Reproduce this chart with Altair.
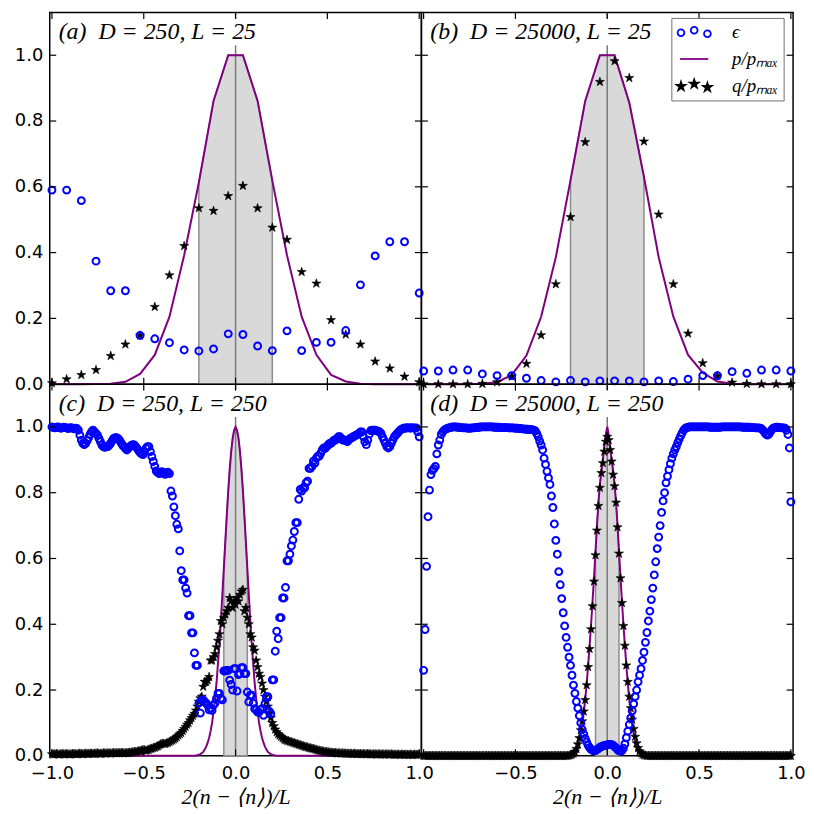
import math
import altair as alt
import pandas as pd

# ------------------------------------------------------------------ data
# top row: L = 25  -> 26 sites, x = 2(n-<n>)/L
X25 = [-1.0, -0.92, -0.84, -0.76, -0.68, -0.6, -0.52, -0.44, -0.36, -0.28, -0.2, -0.12, -0.04,
       0.04, 0.12, 0.2, 0.28, 0.36, 0.44, 0.52, 0.6, 0.68, 0.76, 0.84, 0.92, 1.0]

EPS_A = [0.590, 0.590, 0.558, 0.374, 0.284, 0.284, 0.148, 0.138, 0.126, 0.104, 0.101, 0.107, 0.153,
         0.151, 0.116, 0.102, 0.162, 0.102, 0.127, 0.127, 0.163, 0.302, 0.390, 0.433, 0.433, 0.277]
P_A = [0.0, 0.0, 0.0, 0.0005, 0.001, 0.007, 0.031, 0.089, 0.205, 0.392, 0.613, 0.861, 1.0,
       1.0, 0.861, 0.619, 0.392, 0.205, 0.089, 0.028, 0.008, 0.001, 0.0, 0.0, 0.0, 0.0]
Q_A = [0.003, 0.015, 0.028, 0.043, 0.086, 0.121, 0.148, 0.235, 0.331, 0.420, 0.535, 0.527, 0.572,
       0.603, 0.535, 0.476, 0.439, 0.341, 0.306, 0.195, 0.151, 0.121, 0.069, 0.048, 0.023, 0.006]

EPS_B = [0.040, 0.040, 0.043, 0.043, 0.031, 0.026, 0.026, 0.018, 0.011, 0.007, 0.011, 0.007, 0.010,
         0.010, 0.010, 0.007, 0.010, 0.008, 0.015, 0.026, 0.026, 0.038, 0.033, 0.043, 0.043, 0.040]
P_B = [0.0, 0.0, 0.0, 0.0, 0.001, 0.006, 0.028, 0.087, 0.205, 0.386, 0.620, 0.861, 1.0,
       1.0, 0.856, 0.630, 0.386, 0.205, 0.089, 0.035, 0.008, 0.001, 0.0, 0.0, 0.0, 0.0]
Q_B = [0.0, 0.0, 0.0, 0.0, 0.001, 0.006, 0.023, 0.062, 0.149, 0.304, 0.508, 0.736, 0.919,
       0.982, 0.931, 0.738, 0.516, 0.304, 0.154, 0.064, 0.025, 0.005, 0.001, 0.0, 0.0, 0.0]

# bottom row: L = 250 -> 251 sites
X250 = [round(-1.0 + 0.008 * k, 3) for k in range(251)]

EPS_C = [
    1.0, 0.998, 0.997, 0.999, 1.0, 0.998, 0.996, 0.997, 0.999, 0.998,
    0.997, 0.995, 0.997, 0.998, 0.996, 0.994, 0.996, 0.995, 0.99, 0.975,
    0.96, 0.95, 0.946, 0.95, 0.958, 0.968, 0.978, 0.986, 0.99, 0.985,
    0.98, 0.975, 0.965, 0.955, 0.945, 0.94, 0.938, 0.94, 0.94, 0.945,
    0.95, 0.958, 0.965, 0.967, 0.967, 0.965, 0.96, 0.952, 0.945, 0.94,
    0.935, 0.93, 0.935, 0.94, 0.944, 0.946, 0.945, 0.94, 0.935, 0.928,
    0.922, 0.918, 0.916, 0.925, 0.935, 0.94, 0.94, 0.925, 0.91, 0.895,
    0.88, 0.866, 0.862, 0.858, 0.86, 0.864, 0.86, 0.856, 0.86, 0.862,
    0.858, 0.805, 0.79, 0.757, 0.73, 0.704, 0.69, 0.623, 0.563, 0.535,
    0.535, 0.51, 0.495, 0.426, 0.426, 0.374, 0.374, 0.313, 0.275, 0.275,
    0.16, 0.13, 0.17, 0.17, 0.164, 0.16, 0.154, 0.14, 0.145, 0.138,
    0.154, 0.16, 0.175, 0.19, 0.19, 0.175, 0.17, 0.258, 0.258, 0.26,
    0.26, 0.23, 0.217, 0.2, 0.265, 0.265, 0.197, 0.247, 0.25, 0.268,
    0.268, 0.25, 0.25, 0.194, 0.164, 0.184, 0.184, 0.16, 0.143, 0.14,
    0.133, 0.133, 0.14, 0.143, 0.123, 0.158, 0.18, 0.18, 0.135, 0.128,
    0.231, 0.231, 0.318, 0.379, 0.356, 0.42, 0.42, 0.48, 0.48, 0.512,
    0.593, 0.593, 0.613, 0.638, 0.656, 0.682, 0.709, 0.709, 0.78, 0.81,
    0.805, 0.815, 0.815, 0.83, 0.835, 0.874, 0.874, 0.88, 0.896, 0.89,
    0.905, 0.911, 0.911, 0.92, 0.93, 0.936, 0.935, 0.94, 0.945, 0.95,
    0.95, 0.955, 0.96, 0.96, 0.965, 0.97, 0.97, 0.965, 0.96, 0.96,
    0.96, 0.955, 0.96, 0.965, 0.967, 0.97, 0.972, 0.975, 0.977, 0.98,
    0.985, 0.985, 0.97, 0.955, 0.946, 0.96, 0.978, 0.989, 0.99, 0.99,
    0.99, 0.988, 0.987, 0.985, 0.98, 0.97, 0.96, 0.95, 0.94, 0.936,
    0.94, 0.95, 0.96, 0.97, 0.975, 0.98, 0.985, 0.99, 0.993, 0.995,
    0.997, 0.996, 0.998, 0.997, 0.996, 0.998, 0.997, 0.996, 0.997, 0.985, 0.97,
]

P_C = [
    0, 0, 0, 0, 0, 0, 0, 0, 0, 0,
    0, 0, 0, 0, 0, 0, 0, 0, 0, 0,
    0, 0, 0, 0, 0, 0, 0, 0, 0, 0,
    0, 0, 0, 0, 0, 0, 0, 0, 0, 0,
    0, 0, 0, 0, 0, 0, 0, 0, 0, 0,
    0, 0, 0, 0, 0, 0, 0, 0, 0, 0,
    0, 0, 0, 0, 0, 0, 0, 0, 0, 0,
    0, 0, 0, 0, 0, 0, 0, 0, 0, 0,
    0, 0, 0, 0, 0, 0, 0, 0, 0, 0,
    0, 0, 0, 0, 0, 0, 0, 0, 0.001, 0.002,
    0.003, 0.005, 0.008, 0.012, 0.019, 0.028, 0.04, 0.055, 0.075, 0.10,
    0.135, 0.175, 0.22, 0.28, 0.34, 0.41, 0.49, 0.57, 0.65, 0.73,
    0.805, 0.87, 0.925, 0.965, 0.99, 1.0, 0.99, 0.965, 0.925, 0.87,
    0.805, 0.73, 0.65, 0.57, 0.49, 0.41, 0.34, 0.28, 0.22, 0.175,
    0.135, 0.10, 0.075, 0.055, 0.04, 0.028, 0.019, 0.012, 0.008, 0.005,
    0.003, 0.002, 0.001, 0, 0, 0, 0, 0, 0, 0,
    0, 0, 0, 0, 0, 0, 0, 0, 0, 0,
    0, 0, 0, 0, 0, 0, 0, 0, 0, 0,
    0, 0, 0, 0, 0, 0, 0, 0, 0, 0,
    0, 0, 0, 0, 0, 0, 0, 0, 0, 0,
    0, 0, 0, 0, 0, 0, 0, 0, 0, 0,
    0, 0, 0, 0, 0, 0, 0, 0, 0, 0,
    0, 0, 0, 0, 0, 0, 0, 0, 0, 0,
    0, 0, 0, 0, 0, 0, 0, 0, 0, 0,
    0, 0, 0, 0, 0, 0, 0, 0, 0, 0, 0,
]

Q_C = [
    0.005, 0.004, 0.005, 0.006, 0.005, 0.004, 0.005, 0.006, 0.005, 0.005,
    0.006, 0.005, 0.004, 0.005, 0.006, 0.006, 0.005, 0.005, 0.006, 0.007,
    0.006, 0.005, 0.006, 0.007, 0.006, 0.006, 0.007, 0.007, 0.006, 0.007,
    0.007, 0.008, 0.007, 0.006, 0.007, 0.008, 0.008, 0.007, 0.008, 0.008,
    0.007, 0.008, 0.009, 0.008, 0.008, 0.009, 0.008, 0.009, 0.009, 0.008,
    0.008, 0.009, 0.009, 0.010, 0.010, 0.011, 0.012, 0.012, 0.013, 0.014,
    0.015, 0.016, 0.018, 0.017, 0.016, 0.017, 0.019, 0.021, 0.022, 0.024,
    0.025, 0.027, 0.029, 0.032, 0.035, 0.037, 0.037, 0.036, 0.038, 0.040,
    0.042, 0.045, 0.047, 0.050, 0.053, 0.057, 0.062, 0.066, 0.070, 0.076,
    0.082, 0.088, 0.095, 0.100, 0.108, 0.115, 0.122, 0.128, 0.138, 0.150,
    0.165, 0.175, 0.180, 0.210, 0.225, 0.225, 0.230, 0.240, 0.290, 0.290,
    0.300, 0.310, 0.330, 0.350, 0.370, 0.410, 0.400, 0.420, 0.430, 0.440,
    0.450, 0.480, 0.470, 0.450, 0.470, 0.460, 0.480, 0.470, 0.490, 0.500,
    0.505, 0.440, 0.450, 0.420, 0.400, 0.370, 0.360, 0.330, 0.320, 0.290,
    0.270, 0.250, 0.240, 0.220, 0.200, 0.180, 0.165, 0.150, 0.130, 0.115,
    0.100, 0.090, 0.080, 0.072, 0.066, 0.062, 0.058, 0.054, 0.050, 0.048,
    0.046, 0.045, 0.043, 0.042, 0.040, 0.039, 0.037, 0.036, 0.034, 0.033,
    0.031, 0.030, 0.028, 0.027, 0.026, 0.024, 0.023, 0.022, 0.021, 0.020,
    0.018, 0.017, 0.016, 0.015, 0.014, 0.013, 0.012, 0.012, 0.011, 0.010,
    0.010, 0.009, 0.009, 0.009, 0.008, 0.008, 0.008, 0.007, 0.008, 0.007,
    0.007, 0.007, 0.006, 0.007, 0.006, 0.006, 0.007, 0.006, 0.005, 0.006,
    0.006, 0.005, 0.006, 0.005, 0.005, 0.006, 0.005, 0.005, 0.004, 0.005,
    0.005, 0.004, 0.005, 0.005, 0.004, 0.005, 0.004, 0.004, 0.005, 0.004,
    0.004, 0.005, 0.004, 0.004, 0.003, 0.004, 0.004, 0.003, 0.004, 0.004,
    0.003, 0.004, 0.003, 0.003, 0.004, 0.003, 0.003, 0.004, 0.003, 0.003, 0.004,
]

EPS_D = [
    0.26, 0.384, 0.576, 0.727, 0.808, 0.855, 0.868, 0.873, 0.880, 0.918,
    0.945, 0.960, 0.977, 0.985, 0.990, 0.993, 0.995, 0.997, 0.998, 0.999,
    1.0, 1.0, 1.0, 0.999, 0.999, 0.998, 0.998, 0.997, 0.997, 0.997,
    0.996, 0.996, 0.996, 0.997, 0.997, 0.998, 0.998, 0.999, 0.999, 1.0,
    1.0, 1.0, 1.0, 1.0, 1.0, 1.0, 1.0, 1.0, 0.999, 0.999,
    0.999, 0.999, 0.998, 0.998, 0.998, 0.998, 0.998, 0.998, 0.997, 0.997,
    0.997, 0.997, 0.996, 0.996, 0.996, 0.995, 0.995, 0.994, 0.994, 0.993,
    0.993, 0.993, 0.992, 0.992, 0.991, 0.99, 0.988, 0.98, 0.97, 0.957,
    0.945, 0.93, 0.905, 0.886, 0.865, 0.845, 0.825, 0.79, 0.755, 0.705,
    0.655, 0.613, 0.56, 0.52, 0.478, 0.435, 0.395, 0.36, 0.33, 0.30,
    0.275, 0.245, 0.215, 0.19, 0.165, 0.145, 0.122, 0.10, 0.08, 0.066,
    0.053, 0.042, 0.032, 0.025, 0.02, 0.017, 0.015, 0.016, 0.019, 0.022,
    0.026, 0.028, 0.030, 0.031, 0.032, 0.033, 0.035, 0.035, 0.034, 0.032,
    0.028, 0.024, 0.019, 0.015, 0.014, 0.016, 0.023, 0.036, 0.055, 0.075,
    0.095, 0.115, 0.137, 0.158, 0.18, 0.20, 0.225, 0.245, 0.265, 0.29,
    0.315, 0.345, 0.375, 0.41, 0.44, 0.475, 0.51, 0.55, 0.59, 0.63,
    0.665, 0.70, 0.74, 0.775, 0.80, 0.83, 0.85, 0.87, 0.888, 0.905,
    0.918, 0.93, 0.94, 0.952, 0.963, 0.973, 0.982, 0.99, 0.995, 0.998,
    0.999, 1.0, 1.0, 1.0, 1.0, 1.0, 1.0, 1.0, 1.0, 1.0,
    1.0, 1.0, 1.0, 1.0, 1.0, 0.999, 0.999, 0.999, 0.999, 0.999,
    0.999, 0.999, 0.999, 1.0, 1.0, 1.0, 1.0, 1.0, 1.0, 1.0,
    1.0, 1.0, 1.0, 1.0, 1.0, 1.0, 1.0, 0.999, 0.999, 0.999,
    0.999, 0.999, 0.999, 0.998, 0.998, 0.998, 0.997, 0.997, 0.997, 0.996,
    0.995, 0.99, 0.984, 0.978, 0.975, 0.978, 0.985, 0.992, 0.996, 0.998,
    0.999, 0.999, 0.998, 0.998, 0.997, 0.997, 0.996, 0.99, 0.977, 0.936, 0.772,
]

P_D = [
    0, 0, 0, 0, 0, 0, 0, 0, 0, 0,
    0, 0, 0, 0, 0, 0, 0, 0, 0, 0,
    0, 0, 0, 0, 0, 0, 0, 0, 0, 0,
    0, 0, 0, 0, 0, 0, 0, 0, 0, 0,
    0, 0, 0, 0, 0, 0, 0, 0, 0, 0,
    0, 0, 0, 0, 0, 0, 0, 0, 0, 0,
    0, 0, 0, 0, 0, 0, 0, 0, 0, 0,
    0, 0, 0, 0, 0, 0, 0, 0, 0, 0,
    0, 0, 0, 0, 0, 0, 0, 0, 0, 0,
    0, 0, 0, 0, 0, 0, 0, 0, 0, 0,
    0.001, 0.002, 0.004, 0.008, 0.015, 0.026, 0.042, 0.065, 0.095, 0.13,
    0.17, 0.22, 0.275, 0.335, 0.40, 0.47, 0.545, 0.62, 0.70, 0.77,
    0.825, 0.865, 0.90, 0.94, 0.975, 1.0, 0.975, 0.94, 0.90, 0.865,
    0.825, 0.77, 0.70, 0.62, 0.545, 0.47, 0.40, 0.335, 0.275, 0.22,
    0.17, 0.13, 0.095, 0.065, 0.042, 0.026, 0.015, 0.008, 0.004, 0.002,
    0.001, 0, 0, 0, 0, 0, 0, 0, 0, 0,
    0, 0, 0, 0, 0, 0, 0, 0, 0, 0,
    0, 0, 0, 0, 0, 0, 0, 0, 0, 0,
    0, 0, 0, 0, 0, 0, 0, 0, 0, 0,
    0, 0, 0, 0, 0, 0, 0, 0, 0, 0,
    0, 0, 0, 0, 0, 0, 0, 0, 0, 0,
    0, 0, 0, 0, 0, 0, 0, 0, 0, 0,
    0, 0, 0, 0, 0, 0, 0, 0, 0, 0,
    0, 0, 0, 0, 0, 0, 0, 0, 0, 0,
    0, 0, 0, 0, 0, 0, 0, 0, 0, 0, 0,
]

Q_D = [
    0, 0, 0, 0, 0, 0, 0, 0, 0, 0,
    0, 0, 0, 0, 0, 0, 0, 0, 0, 0,
    0, 0, 0, 0, 0, 0, 0, 0, 0, 0,
    0, 0, 0, 0, 0, 0, 0, 0, 0, 0,
    0, 0, 0, 0, 0, 0, 0, 0, 0, 0,
    0, 0, 0, 0, 0, 0, 0, 0, 0, 0,
    0, 0, 0, 0, 0, 0, 0, 0, 0, 0,
    0, 0, 0, 0, 0, 0, 0, 0, 0, 0,
    0, 0, 0, 0, 0, 0, 0, 0, 0, 0,
    0, 0, 0, 0, 0, 0, 0, 0, 0, 0.001,
    0.002, 0.004, 0.007, 0.012, 0.021, 0.035, 0.054, 0.078, 0.105, 0.135,
    0.17, 0.215, 0.27, 0.325, 0.385, 0.455, 0.53, 0.61, 0.685, 0.76,
    0.815, 0.86, 0.89, 0.925, 0.955, 0.97, 0.96, 0.93, 0.895, 0.855,
    0.82, 0.77, 0.695, 0.615, 0.54, 0.465, 0.395, 0.335, 0.275, 0.225,
    0.18, 0.145, 0.11, 0.082, 0.058, 0.038, 0.024, 0.014, 0.008, 0.004,
    0.002, 0.001, 0, 0, 0, 0, 0, 0, 0, 0,
    0, 0, 0, 0, 0, 0, 0, 0, 0, 0,
    0, 0, 0, 0, 0, 0, 0, 0, 0, 0,
    0, 0, 0, 0, 0, 0, 0, 0, 0, 0,
    0, 0, 0, 0, 0, 0, 0, 0, 0, 0,
    0, 0, 0, 0, 0, 0, 0, 0, 0, 0,
    0, 0, 0, 0, 0, 0, 0, 0, 0, 0,
    0, 0, 0, 0, 0, 0, 0, 0, 0, 0,
    0, 0, 0, 0, 0, 0, 0, 0, 0, 0,
    0, 0, 0, 0, 0, 0, 0, 0, 0, 0, 0,
]

for arr in (EPS_C, P_C, Q_C, EPS_D, P_D, Q_D):
    assert len(arr) == 251, len(arr)

TITLES = ["(a)\u2002D = 250, L = 25", "(b)\u2002D = 25000, L = 25",
          "(c)\u2002D = 250, L = 250", "(d)\u2002D = 25000, L = 250"]
SERIES = ["ϵ", "p/pₘₐₓ", "q/pₘₐₓ"]
XTICKS = [-1.0, -0.5, 0.0, 0.5, 1.0]
YTICKS = [0.0, 0.2, 0.4, 0.6, 0.8, 1.0]
XLABELS_C = [-1.0, -0.5, 0.0, 0.5, 1.0]
XLABELS_D = [-0.5, 0.0, 0.5, 1.0]
XTITLE = "2(n − ⟨n⟩)/L"

# ------------------------------------------------------------------ style
XDOM = [-1.012, 1.012]
YDOM = [0.0, 1.13]
W = 374
H = 374
TICK = 6.5
SERIF = "Liberation Serif"
SANS = "DejaVu Sans"


def star_path(cx=0.0, cy=0.0, r=1.0):
    pts = []
    for i in range(10):
        ang = math.radians(-90 + 36 * i)
        rr = r if i % 2 == 0 else r * 0.382
        pts.append((cx + rr * math.cos(ang), cy + rr * math.sin(ang)))
    return "M" + "L".join(f"{x:.3f},{y:.3f}" for x, y in pts) + "Z"


def circle_path(cx, cy, r):
    return (f"M{cx - r:.3f},{cy:.3f}A{r:.3f},{r:.3f} 0 1,0 {cx + r:.3f},{cy:.3f}"
            f"A{r:.3f},{r:.3f} 0 1,0 {cx - r:.3f},{cy:.3f}Z")


STAR = star_path()
U = 9.0  # legend symbol: px per path unit (symbolSize = (2U)^2)
LEG_DX = [-13.3, 0.0, 13.3]
LEG_DY = [0.5, -1.9, 1.5]
LEG_CIRCLES = "".join(circle_path(dx / U, dy / U, 3.4 / U) for dx, dy in zip(LEG_DX, LEG_DY))
LEG_LINE = f"M{-14.2 / U:.3f},0L{14.2 / U:.3f},0"
LEG_STARS = "".join(star_path(dx / U, dy / U, 4.4 / U) for dx, dy in zip(LEG_DX, LEG_DY))


def x_axis(values):
    return alt.Axis(values=values, format=".1f", labelFont=SANS, labelFontSize=18,
                    labelColor="black", labelPadding=9, labelFlush=False, labelOverlap=False,
                    ticks=False, tickSize=0, domain=False, grid=False,
                    title=XTITLE, titleFont=SERIF, titleFontSize=22, titleFontStyle="italic",
                    titleFontWeight="normal", titleColor="black", titlePadding=4)


def y_axis():
    return alt.Axis(values=YTICKS, format=".1f", labelFont=SANS, labelFontSize=18,
                    labelColor="black", labelPadding=7, labelFlush=False, labelOverlap=False,
                    ticks=False, tickSize=0, domain=False, grid=False, title=None,
                    minExtent=41, maxExtent=41)


LEGEND = alt.Legend(title=None, orient="none", legendX=251.5, legendY=5.5, direction="vertical",
                    fillColor="white", strokeColor="#707070", padding=4.3, rowPadding=7,
                    symbolOffset=8.7, labelOffset=28, labelFont=SERIF, labelFontSize=19,
                    labelFontStyle="italic", labelColor="black", labelLimit=300,
                    symbolSize=324, symbolStrokeWidth=1.8)


def panel(xs, eps, p, q, band, title, box_w, xlabels, show_y, legend):
    XS = alt.Scale(domain=XDOM, nice=False, zero=False)
    YS = alt.Scale(domain=YDOM, nice=False, zero=False)
    xax = x_axis(xlabels) if xlabels is not None else None
    yax = y_axis() if show_y else None

    df = pd.DataFrame({"x": xs, "eps": eps, "p": p, "q": q})
    band_df = df[(df["x"] >= -band - 1e-9) & (df["x"] <= band + 1e-9)]
    X = alt.X("x:Q", scale=XS, axis=xax)

    area = alt.Chart(band_df).mark_area(fill="#d9d9d9", stroke="#8c8c8c", strokeWidth=1.5).encode(
        x=X, y=alt.Y("p:Q", scale=YS, axis=yax), y2=alt.datum(0))
    vline = alt.Chart(pd.DataFrame({"x0": [0.0]})).mark_rule(color="#7a7a7a", strokeWidth=1.5).encode(
        x=alt.X("x0:Q", scale=XS, axis=xax), y=alt.value(0), y2=alt.value(H))
    line = alt.Chart(df).mark_line(color="purple", strokeWidth=2).encode(
        x=X, y=alt.Y("p:Q", scale=YS, axis=yax))
    stars = alt.Chart(df).mark_point(shape=STAR, filled=True, fill="black", stroke="black",
                                     strokeWidth=0.6, size=92, opacity=1).encode(
        x=X, y=alt.Y("q:Q", scale=YS, axis=yax))
    circles = alt.Chart(df).mark_point(shape="circle", filled=False, color="blue", size=48,
                                       strokeWidth=2, opacity=1).encode(
        x=X, y=alt.Y("eps:Q", scale=YS, axis=yax))

    tdf = pd.DataFrame({"t": [title]})
    box = alt.Chart(tdf).mark_rect(color="white").encode(
        x=alt.value(5), x2=alt.value(box_w), y=alt.value(6), y2=alt.value(33))
    txt = alt.Chart(tdf).mark_text(align="left", baseline="alphabetic", font=SERIF, fontSize=24,
                                   fontStyle="italic", color="black").encode(
        x=alt.value(9), y=alt.value(27), text="t:N")

    xt = pd.DataFrame({"v": XTICKS})
    yt = pd.DataFrame({"v": YTICKS})
    rule = dict(color="black", strokeWidth=1.2)
    t_top = alt.Chart(xt).mark_rule(**rule).encode(
        x=alt.X("v:Q", scale=XS, axis=xax), y=alt.value(0), y2=alt.value(TICK))
    t_bot = alt.Chart(xt).mark_rule(**rule).encode(
        x=alt.X("v:Q", scale=XS, axis=xax), y=alt.value(H - TICK), y2=alt.value(H))
    t_left = alt.Chart(yt).mark_rule(**rule).encode(
        y=alt.Y("v:Q", scale=YS, axis=yax), x=alt.value(0), x2=alt.value(TICK))
    t_right = alt.Chart(yt).mark_rule(**rule).encode(
        y=alt.Y("v:Q", scale=YS, axis=yax), x=alt.value(W - TICK), x2=alt.value(W))

    layers = [area, vline, line, stars, circles, box, txt, t_top, t_bot, t_left, t_right]
    if legend:
        leg = alt.Chart(alt.Data(values=[])).mark_point(filled=True, opacity=1, strokeWidth=1.8,
                                                       size=324).encode(
            x=alt.X("x:Q", scale=XS, axis=xax),
            y=alt.Y("y:Q", scale=YS, axis=yax),
            stroke=alt.Stroke("s:N", scale=alt.Scale(domain=SERIES, range=["blue", "purple", "black"]),
                              legend=LEGEND),
            fill=alt.Fill("s:N", scale=alt.Scale(domain=SERIES, range=["transparent", "transparent", "black"]),
                          legend=LEGEND),
            shape=alt.Shape("s:N", scale=alt.Scale(domain=SERIES, range=[LEG_CIRCLES, LEG_LINE, LEG_STARS]),
                            legend=LEGEND),
        )
        layers.append(leg)
    return alt.layer(*layers).properties(width=W, height=H)


pa = panel(X25, EPS_A, P_A, Q_A, 0.2, TITLES[0], 224, None, True, False)
pb = panel(X25, EPS_B, P_B, Q_B, 0.2, TITLES[1], 250, None, False, True)
pc = panel(X250, EPS_C, P_C, Q_C, 0.064, TITLES[2], 236, XLABELS_C, True, False)
pd_ = panel(X250, EPS_D, P_D, Q_D, 0.064, TITLES[3], 262, XLABELS_D, False, False)

IND = dict(stroke="independent", fill="independent", shape="independent")

chart = (
    alt.concat(pa, pb, pc, pd_, columns=2, spacing=0, bounds="flush")
    .resolve_scale(**IND)
    .resolve_legend(**IND)
    .properties(padding={"left": 0, "top": 0, "right": 0, "bottom": 0}, background="white")
    .configure_view(stroke="black", strokeWidth=1.5)
)

chart.save("out.html", embed_options={"renderer": "svg", "actions": False})
